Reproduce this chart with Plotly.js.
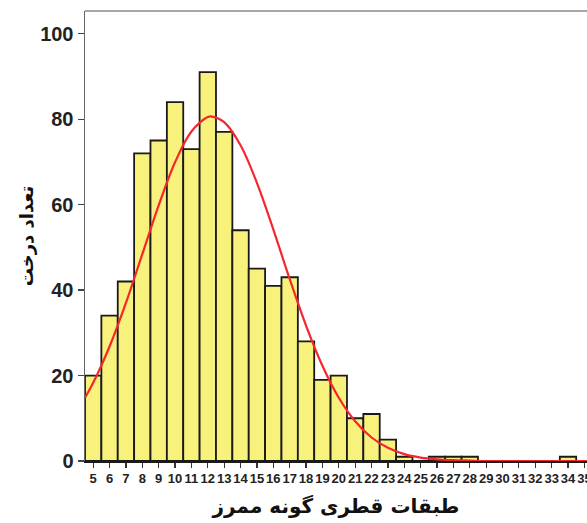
<!DOCTYPE html>
<html>
<head>
<meta charset="utf-8">
<script src="https://cdn.plot.ly/plotly-3.0.1.min.js"></script>
<style>
  html, body { margin: 0; padding: 0; background: #ffffff; overflow: hidden; }
  #chart { width: 587px; height: 523px; }
</style>
</head>
<body>
<div id="chart"></div>
<script>
// Diameter classes (x categories)
const diameterClasses = [5, 6, 7, 8, 9, 10, 11, 12, 13, 14, 15, 16, 17, 18, 19, 20,
  21, 22, 23, 24, 25, 26, 27, 28, 29, 30, 31, 32, 33, 34, 35];
// Tree counts per class
const treeCounts = [20, 34, 42, 72, 75, 84, 73, 91, 77, 54, 45, 41, 43, 28, 19, 20,
  10, 11, 5, 1, 0, 1, 1, 1, 0, 0, 0, 0, 0, 1, 0];
// Normal curve
const curveX = [4.5, 5, 6, 7, 8, 9, 10, 11, 12, 12.25, 13, 14, 15, 16, 17, 18, 19, 20,
  21, 22, 23, 24, 25, 26, 27, 28, 29, 30, 31, 32, 33, 34, 35, 35.2];
const curveY = [14.8, 18.3, 26.8, 37.0, 48.4, 59.8, 69.9, 77.1, 80.5, 80.6, 79.3, 73.9, 65.1,
  54.2, 42.6, 31.7, 22.3, 14.8, 9.3, 5.5, 3.1, 1.6, 0.8, 0.4, 0.2, 0.1, 0, 0, 0, 0, 0, 0, 0, 0];
const tickVals = diameterClasses;
const tickText = diameterClasses.map(String);
const yTickVals = [0, 20, 40, 60, 80, 100];

const xTitle = 'طبقات قطری گونه ممرز';
const yTitle = 'تعداد درخت';

const traces = [
  {
    type: 'bar',
    x: diameterClasses,
    y: treeCounts,
    width: 1,
    marker: { color: '#f8f27c', line: { color: '#1a1a1a', width: 1.8 } },
    hoverinfo: 'skip',
    showlegend: false
  },
  {
    type: 'scatter',
    mode: 'lines',
    x: curveX,
    y: curveY,
    line: { color: '#f5272d', width: 2.2, shape: 'spline' },
    hoverinfo: 'skip',
    showlegend: false,
    cliponaxis: true
  }
];

const layout = {
  width: 587,
  height: 523,
  margin: { l: 85, r: 0, t: 11, b: 62 },
  paper_bgcolor: '#ffffff',
  plot_bgcolor: '#ffffff',
  bargap: 0,
  showlegend: false,
  xaxis: {
    range: [4.5, 35.16],
    tickmode: 'array',
    tickvals: tickVals,
    ticktext: tickText,
    ticks: 'outside',
    ticklen: 5,
    tickwidth: 1.2,
    tickcolor: '#333333',
    ticklabeloverflow: 'allow',
    showline: true,
    linecolor: '#1a1a1a',
    linewidth: 1.5,
    showgrid: false,
    zeroline: false,
    tickangle: 0,
    tickfont: { family: 'Liberation Sans Narrow, Arial Narrow, Liberation Sans, Arial, sans-serif', size: 13, color: '#222222', weight: 'bold' },
    title: {
      text: xTitle,
      font: { family: 'DejaVu Sans, sans-serif', size: 20, color: '#111111', weight: 'bold' },
      standoff: 14
    }
  },
  yaxis: {
    range: [0, 105.3],
    tickmode: 'array',
    tickvals: yTickVals,
    ticks: 'outside',
    ticklen: 6,
    tickwidth: 1.2,
    tickcolor: '#444444',
    showline: true,
    linecolor: '#666666',
    linewidth: 1.5,
    showgrid: false,
    zeroline: false,
    tickfont: { family: 'Liberation Sans, Arial, sans-serif', size: 20, color: '#222222', weight: 'bold' },
    title: {
      text: yTitle,
      font: { family: 'DejaVu Sans, sans-serif', size: 18, color: '#111111', weight: 'bold' },
      standoff: 2
    }
  },
  shapes: [
    {
      type: 'line', xref: 'paper', yref: 'paper',
      x0: 0, x1: 1, y0: 1, y1: 1,
      line: { color: '#8a8a8a', width: 1.5 }
    }
  ]
};

Plotly.newPlot('chart', traces, layout, { displayModeBar: false, staticPlot: true });
</script>
</body>
</html>
